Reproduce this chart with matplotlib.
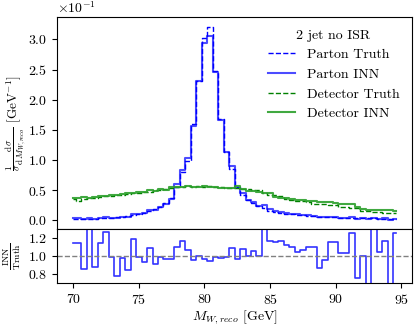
import numpy as np
import matplotlib
matplotlib.use('Agg')
from matplotlib import pyplot as plt
from matplotlib.ticker import MultipleLocator

plt.rcParams['font.family'] = 'serif'
plt.rcParams['font.serif'] = ['cmr10', 'DejaVu Serif']
plt.rcParams['mathtext.fontset'] = 'cm'
plt.rcParams['axes.formatter.use_mathtext'] = True
plt.rcParams['axes.unicode_minus'] = False
plt.rcParams['font.size'] = 10

# bin positions (GeV), 60 bins of 25/60 GeV starting at 70
bin_width = 25 / 60
m_w = 70 + bin_width * np.arange(60)

# values in units of 1e-1 GeV^-1
parton_truth = [0.030, 0.030, 0.028, 0.030, 0.033, 0.035, 0.040, 0.045, 0.052, 0.062,
                0.075, 0.088, 0.102, 0.125, 0.160, 0.185, 0.225, 0.285, 0.370, 0.550,
                0.800, 0.990, 1.600, 2.310, 3.030, 3.210, 2.470, 1.680, 1.140, 0.860,
                0.560, 0.420, 0.340, 0.290, 0.240, 0.200, 0.165, 0.140, 0.125, 0.115,
                0.105, 0.095, 0.088, 0.075, 0.068, 0.063, 0.058, 0.055, 0.052, 0.048,
                0.045, 0.043, 0.040, 0.038, 0.036, 0.034, 0.032, 0.030, 0.028, 0.026]
parton_inn = [0.034, 0.034, 0.025, 0.042, 0.029, 0.040, 0.050, 0.045, 0.041, 0.060,
              0.064, 0.105, 0.101, 0.117, 0.174, 0.169, 0.223, 0.276, 0.359, 0.607,
              0.830, 1.030, 1.570, 2.310, 2.940, 3.060, 2.460, 1.660, 1.130, 0.900,
              0.540, 0.450, 0.340, 0.310, 0.240, 0.260, 0.190, 0.160, 0.145, 0.130,
              0.115, 0.100, 0.094, 0.083, 0.075, 0.055, 0.055, 0.063, 0.060, 0.049,
              0.046, 0.054, 0.030, 0.038, 0.020, 0.049, 0.033, 0.035, 0.015, 0.033]
ratio = [1.149, 1.149, 0.851, 1.500, 0.873, 1.142, 1.270, 0.990, 0.783, 0.975,
         0.847, 1.190, 0.990, 0.937, 1.088, 0.914, 0.990, 0.970, 0.970, 1.104,
         1.164, 1.066, 0.953, 1.000, 0.964, 0.945, 0.990, 0.975, 0.990, 1.088,
         0.964, 1.077, 1.005, 1.058, 1.005, 1.300, 1.170, 1.150, 1.170, 1.120,
         1.100, 1.040, 1.065, 1.100, 1.100, 0.870, 0.955, 1.150, 1.150, 1.030,
         1.030, 1.260, 0.760, 1.000, 0.550, 1.450, 1.040, 1.170, 0.550, 1.260]
detector_truth = [0.35, 0.33, 0.36, 0.38, 0.38, 0.39, 0.40, 0.40, 0.42, 0.43,
                  0.44, 0.45, 0.46, 0.47, 0.48, 0.50, 0.50, 0.52, 0.53, 0.55,
                  0.56, 0.57, 0.56, 0.57, 0.56, 0.57, 0.56, 0.55, 0.54, 0.53,
                  0.53, 0.52, 0.52, 0.51, 0.50, 0.45, 0.43, 0.42, 0.41, 0.36,
                  0.34, 0.33, 0.33, 0.30, 0.28, 0.27, 0.27, 0.26, 0.26, 0.23,
                  0.22, 0.21, 0.20, 0.16, 0.15, 0.14, 0.14, 0.13, 0.13, 0.12]
detector_inn = [0.37, 0.38, 0.39, 0.38, 0.39, 0.40, 0.41, 0.43, 0.42, 0.44,
                0.46, 0.45, 0.48, 0.47, 0.50, 0.49, 0.52, 0.51, 0.55, 0.55,
                0.55, 0.57, 0.55, 0.56, 0.57, 0.55, 0.56, 0.54, 0.53, 0.53,
                0.57, 0.52, 0.49, 0.49, 0.48, 0.45, 0.45, 0.39, 0.38, 0.38,
                0.35, 0.34, 0.34, 0.32, 0.33, 0.31, 0.30, 0.30, 0.29, 0.28,
                0.27, 0.27, 0.22, 0.19, 0.18, 0.18, 0.18, 0.17, 0.17, 0.16]

fig = plt.figure(figsize=(4.16, 3.28), dpi=100)
ax = fig.add_axes([0.137, 0.302, 0.853, 0.646])
axr = fig.add_axes([0.137, 0.137, 0.853, 0.165], sharex=ax)

scale = 1e-1
ax.step(m_w, np.array(parton_truth) * scale, where='mid', color='blue', ls='--', lw=1, label='Parton Truth')
ax.step(m_w, np.array(parton_inn) * scale, where='mid', color='blue', alpha=0.7, lw=1.5, label='Parton INN')
ax.step(m_w, np.array(detector_truth) * scale, where='mid', color='green', ls='--', lw=1, label='Detector Truth')
ax.step(m_w, np.array(detector_inn) * scale, where='mid', color='tab:green', alpha=0.9, lw=1.5, label='Detector INN')

ax.set_xlim(68.76, 95.8)
ax.set_ylim(-0.014, 0.337)
ax.yaxis.set_major_locator(MultipleLocator(0.05))
ax.ticklabel_format(axis='y', style='sci', scilimits=(0, 0), useMathText=True)
ax.tick_params(axis='x', bottom=False, labelbottom=False)
ax.set_ylabel(r'$\frac{1}{\sigma}\frac{\mathrm{d}\sigma}{\mathrm{d}M_{W,reco}}$ [GeV$^{-1}$]', fontsize=9.5)
ax.yaxis.set_label_coords(-0.083, 0.5)
ax.legend(title='2 jet no ISR', frameon=False, loc='upper right', fontsize=10, title_fontsize=10)

axr.step(m_w, ratio, where='mid', color='blue', alpha=0.8, lw=1.2)
axr.axhline(1.0, color='gray', ls='--', lw=1)
axr.set_ylim(0.7, 1.3)
axr.set_yticks([0.8, 1.0, 1.2])
axr.set_xticks([70, 75, 80, 85, 90, 95])
axr.set_ylabel(r'$\frac{\mathrm{INN}}{\mathrm{Truth}}$')
axr.yaxis.set_label_coords(-0.095, 0.5)
axr.set_xlabel(r'$M_{W,reco}$ [GeV]', labelpad=1)

fig.savefig('out.png', dpi=100)
